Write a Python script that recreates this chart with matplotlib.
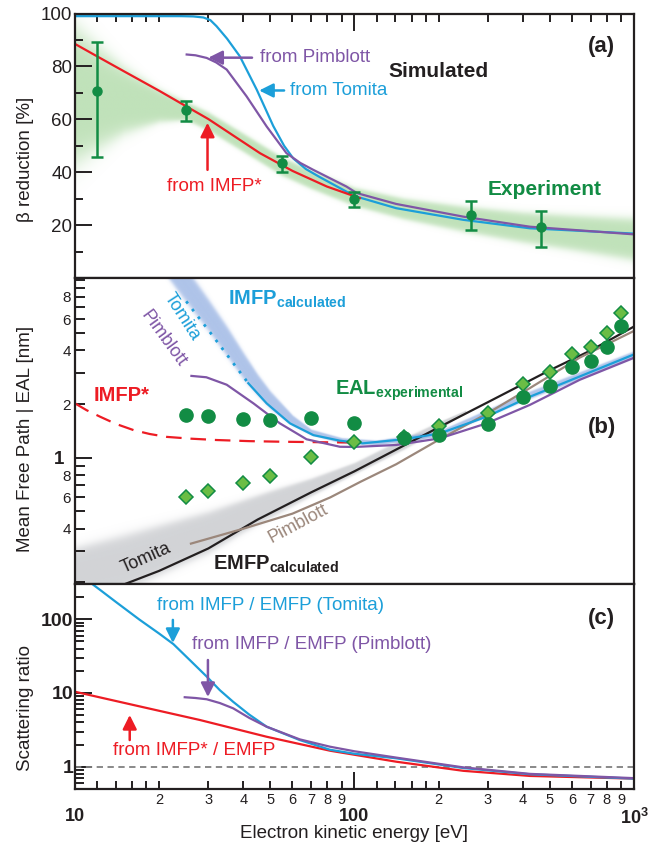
import matplotlib
matplotlib.use("Agg")
import matplotlib.pyplot as plt
from matplotlib.colors import to_rgb
import numpy as np

plt.rcParams["font.family"] = ["Liberation Sans", "DejaVu Sans"]
plt.rcParams["mathtext.fontset"] = "custom"
plt.rcParams["mathtext.rm"] = "Liberation Sans"
plt.rcParams["mathtext.bf"] = "Liberation Sans:bold"
plt.rcParams["mathtext.it"] = "Liberation Sans:italic"

RED = "#ed1c24"
BLUE = "#1c9fd9"
PURPLE = "#7f56a6"
GREEN = "#128c44"
LIGHT_GREEN = "#6bbd45"
BROWN = "#9b877b"
INK = "#231f20"

# ---- panel (a): beta reduction [%] ----
exp_energy = [12, 25, 55, 100, 262, 463]
exp_beta = [70.8, 63.4, 43.4, 29.9, 23.9, 19.1]
exp_beta_hi = [89.1, 66.8, 46.2, 32.5, 29.2, 25.5]
exp_beta_lo = [45.6, 59.5, 39.9, 27.0, 18.2, 11.6]

exp_band_energy = [10, 12, 15, 20, 25, 30, 40, 55, 70, 100, 150, 250, 400, 600, 1000]
exp_band_lo = [40, 46, 53, 58, 59, 55, 47, 38, 33, 26.5, 21.5, 16.5, 12.5, 9.5, 5.5]
exp_band_hi = [98, 90, 81, 72, 67, 63, 55, 46, 41, 34.5, 30.5, 27.5, 25.5, 24.5, 23.5]

sim_imfp_star_energy = [10, 12, 15, 20, 25, 30, 45.9, 60, 79.6, 104.5]
sim_imfp_star_beta = [88.5, 83.8, 78.1, 70.8, 64.9, 60.1, 47.2, 40.5, 34.6, 30.2]

sim_tomita_energy = [10, 24, 26.5, 28.8, 30.5, 32.1, 35, 38.9, 44.7, 51.2, 56, 60.4, 67, 75, 100,
                     141, 245, 424, 1000]
sim_tomita_beta = [99.0, 99.0, 98.9, 98.5, 97.5, 95.2, 90.5, 83.8, 71.2, 57.5, 50.0, 45.2, 41.2,
                   38.2, 31.0, 26.4, 22.0, 18.8, 16.8]

sim_pimblott_energy = [25.1, 27, 29.6, 32, 34.9, 41.1, 48.5, 57.1, 64, 71.2, 93.5, 102, 141, 245,
                       424, 1000]
sim_pimblott_beta = [84.5, 84.2, 83.2, 81.5, 78.8, 68.7, 57.3, 47.2, 43.5, 40.9, 34.6, 32.1, 28.0,
                     23.2, 19.4, 16.5]

# ---- panel (b): mean free path / EAL [nm] ----
eal_energy = [25, 30, 40, 50, 70, 100, 150, 200, 300, 400, 500, 600, 700, 800, 900]
eal_circle = [1.74, 1.72, 1.65, 1.63, 1.67, 1.57, 1.285, 1.34, 1.55, 2.19, 2.54, 3.22, 3.51, 4.17, 5.46]
eal_diamond = [0.603, 0.650, 0.718, 0.792, 1.005, 1.23, 1.30, 1.51, 1.79, 2.59, 3.01, 3.82, 4.16, 5.01, 6.49]

imfp_tomita_dotted_energy = [25, 30, 35, 41.7]
imfp_tomita_dotted = [7.55, 5.21, 3.78, 2.62]
imfp_tomita_energy = [41.7, 48.5, 58.8, 71.3, 88.7, 107, 150, 202, 297, 424, 640, 1000]
imfp_tomita = [2.62, 2.02, 1.56, 1.34, 1.247, 1.205, 1.27, 1.37, 1.70, 2.20, 2.86, 3.80]

imfp_band_energy = [21, 25, 30, 35, 40, 45, 50, 60, 70, 90, 120, 200, 400, 1000]
imfp_band_lo = [10.5, 7.2, 5.0, 3.6, 2.7, 2.2, 1.85, 1.5, 1.33, 1.2, 1.17, 1.3, 2.05, 3.6]
imfp_band_hi = [16, 12, 8.0, 5.6, 4.0, 3.0, 2.4, 1.75, 1.45, 1.3, 1.26, 1.42, 2.3, 4.0]

imfp_pimblott_energy = [26.1, 29.5, 34.9, 43.5, 54.1, 67.4, 88.7, 100, 141, 202, 297, 424, 640, 1000]
imfp_pimblott = [2.88, 2.83, 2.57, 2.02, 1.56, 1.27, 1.153, 1.15, 1.18, 1.285, 1.56, 1.98, 2.74, 3.64]

imfp_star_energy = [10, 11, 12.3, 14, 16.2, 18.5, 21.3, 26, 32.1, 42, 55.7, 70, 83.6, 100]
imfp_star = [2.02, 1.85, 1.70, 1.55, 1.43, 1.36, 1.31, 1.28, 1.258, 1.24, 1.23, 1.225, 1.22, 1.22]

emfp_tomita_energy = [12, 15, 20, 30, 45, 70, 100, 150, 200, 300, 500, 700, 1000]
emfp_tomita = [0.17, 0.195, 0.232, 0.31, 0.45, 0.64, 0.84, 1.17, 1.48, 2.05, 3.1, 4.0, 5.45]

emfp_band_energy = [10, 15, 20, 30, 40, 50, 70, 100, 150, 200, 250]
emfp_band_lo = [0.15, 0.17, 0.21, 0.28, 0.37, 0.45, 0.6, 0.8, 1.1, 1.42, 1.8]
emfp_band_hi = [0.33, 0.39, 0.44, 0.52, 0.6, 0.67, 0.78, 0.95, 1.3, 1.6, 1.85]

emfp_pimblott_energy = [26, 40, 60, 82, 105, 141, 200, 300, 424, 640, 1000]
emfp_pimblott = [0.33, 0.40, 0.486, 0.60, 0.733, 0.92, 1.26, 1.78, 2.46, 3.65, 5.15]

# ---- panel (c): scattering ratio ----
ratio_tomita_energy = [10, 12.3, 14, 17, 20, 22.5, 26, 29.6, 33, 36.8, 42, 48.5, 63.7, 81.7, 100,
                       141, 245, 424, 1000]
ratio_tomita = [450, 250, 172, 99, 64, 46, 27, 16.7, 10.9, 7.6, 5.1, 3.49, 2.30, 1.70, 1.50,
                1.30, 0.96, 0.79, 0.69]

ratio_pimblott_energy = [24.7, 27, 29.6, 33, 36.8, 42, 48.5, 63.7, 81.7, 100, 141, 245, 424, 1000]
ratio_pimblott = [8.76, 8.55, 8.22, 7.3, 6.2, 4.6, 3.49, 2.35, 1.87, 1.62, 1.33, 0.98, 0.80, 0.70]

ratio_imfp_star_energy = [10, 16.2, 28, 48.5, 81.7, 141, 245, 424, 1000]
ratio_imfp_star = [10.4, 6.87, 4.30, 2.55, 1.65, 1.17, 0.88, 0.75, 0.69]

x_minor = [m * d for d in (10, 100) for m in (1.2, 1.4, 1.6, 1.8, 2, 3, 4, 5, 6, 7, 8, 9)]
x_minor_labels = ["" if m < 2 else str(m) for d in (10, 100)
                  for m in (1.2, 1.4, 1.6, 1.8, 2, 3, 4, 5, 6, 7, 8, 9)]


def soft_band(ax, x, lo, hi, color, peak, soft=0.22):
    # soft-edged ribbon, drawn as an image in axes coordinates
    xlim, ylim = ax.get_xlim(), ax.get_ylim()
    to_frac = ax.transScale + ax.transLimits
    p_lo = to_frac.transform(np.column_stack([x, lo]))
    p_hi = to_frac.transform(np.column_stack([x, hi]))
    fx, flo, fhi = p_lo[:, 0], p_lo[:, 1], p_hi[:, 1]
    gx = np.linspace(0, 1, 800)
    gy = np.linspace(0, 1, 600)
    mid = np.interp(gx, fx, (flo + fhi) / 2)
    half = np.interp(gx, fx, (fhi - flo) / 2)
    d = np.abs(gy[:, None] - mid[None, :]) / half[None, :]
    alpha = peak * 0.5 * (1 - np.tanh((d - 0.85) / soft))
    alpha[:, (gx < fx[0]) | (gx > fx[-1])] = 0
    rgba = np.zeros((gy.size, gx.size, 4))
    rgba[..., :3] = to_rgb(color)
    rgba[..., 3] = alpha
    ax.imshow(rgba, extent=(0, 1, 0, 1), transform=ax.transAxes, origin="lower",
              aspect="auto", interpolation="bilinear", zorder=1)
    ax.set_xlim(xlim)
    ax.set_ylim(ylim)


def arrow(ax, tail, tip, color):
    ax.annotate("", xy=tip, xytext=tail,
                arrowprops=dict(arrowstyle="-|>,head_length=0.6,head_width=0.3",
                                color=color, lw=1.8, mutation_scale=14,
                                shrinkA=0, shrinkB=0), zorder=6)


def style_axes(ax):
    ax.set_xscale("log")
    ax.set_xlim(10, 1000)
    for s in ax.spines.values():
        s.set_linewidth(1.6)
        s.set_color(INK)
        s.set_zorder(8)
    ax.tick_params(which="both", direction="in", color=INK, width=1.4,
                   right=False, labelcolor=INK)
    ax.tick_params(which="major", length=12)


fig = plt.figure(figsize=(6.67, 8.44), dpi=100)
left, width = 0.1124, 0.8381
ax_a = fig.add_axes([left, 0.6706, width, 0.3134])
ax_b = fig.add_axes([left, 0.3086, width, 0.3620])
ax_c = fig.add_axes([left, 0.0648, width, 0.2438])

# ================= (a) =================
style_axes(ax_a)
ax_a.set_ylim(0, 100)
soft_band(ax_a, exp_band_energy, exp_band_lo, exp_band_hi, "#86c77a", 0.52)
ax_a.plot(sim_tomita_energy, sim_tomita_beta, color=BLUE, lw=1.6, zorder=3)
ax_a.plot(sim_pimblott_energy, sim_pimblott_beta, color=PURPLE, lw=1.6, zorder=3)
ax_a.plot(sim_imfp_star_energy, sim_imfp_star_beta, color=RED, lw=1.6, zorder=3)
beta = np.array(exp_beta)
yerr = [beta - np.array(exp_beta_lo), np.array(exp_beta_hi) - beta]
ax_a.errorbar(exp_energy, exp_beta, yerr=yerr, fmt="o", color=GREEN, ms=6.5,
              elinewidth=1.8, capsize=4, capthick=1.8, zorder=5)
ax_a.set_yticks([20, 40, 60, 80, 100])
ax_a.set_yticks([10, 30, 50, 70, 90], minor=True)
ax_a.tick_params(axis="y", which="major", labelsize=13.5, pad=2)
ax_a.tick_params(axis="y", which="minor", length=6)
ax_a.set_xticks([10, 100, 1000])
ax_a.set_xticks(x_minor, minor=True)
ax_a.tick_params(axis="x", which="both", top=True, bottom=False,
                 labelbottom=False, labeltop=False)
ax_a.tick_params(axis="x", which="minor", length=6)
ax_a.set_ylabel("β reduction [%]", fontsize=13.5, color=INK)
ax_a.yaxis.set_label_coords(-0.074, 0.45)

ax_a.text(45.9, 83.5, "from Pimblott", color=PURPLE, fontsize=13.5, va="center")
arrow(ax_a, (43, 83.3), (30, 83.3), PURPLE)
ax_a.text(58.7, 70.9, "from Tomita", color=BLUE, fontsize=13.5, va="center")
arrow(ax_a, (56, 70.9), (45.6, 70.9), BLUE)
ax_a.text(31.6, 34.5, "from IMFP*", color=RED, fontsize=13.5, va="center", ha="center")
arrow(ax_a, (29.8, 40.9), (29.8, 58.7), RED)
ax_a.text(199, 78, "Simulated", color=INK, fontsize=15, fontweight="bold",
          ha="center", va="center")
ax_a.text(479, 33.3, "Experiment", color=GREEN, fontsize=15, fontweight="bold",
          ha="center", va="center")
ax_a.text(0.941, 0.875, "(a)", transform=ax_a.transAxes, fontsize=16,
          fontweight="bold", ha="center", va="center", color=INK)

# ================= (b) =================
style_axes(ax_b)
ax_b.set_yscale("log")
ax_b.set_ylim(0.197, 10.2)
soft_band(ax_b, emfp_band_energy, emfp_band_lo, emfp_band_hi, "#a5a8ae", 0.5, soft=0.18)
soft_band(ax_b, imfp_band_energy, imfp_band_lo, imfp_band_hi, "#7d9fdc", 0.62, soft=0.2)
ax_b.plot(imfp_star_energy, imfp_star, color=RED, lw=1.6, dashes=(7, 4), zorder=3)
ax_b.plot(emfp_tomita_energy, emfp_tomita, color=INK, lw=1.6, zorder=3)
ax_b.plot(emfp_pimblott_energy, emfp_pimblott, color=BROWN, lw=1.6, zorder=3)
ax_b.plot(imfp_tomita_dotted_energy, imfp_tomita_dotted, color=BLUE, lw=2,
          ls=(0, (1, 2.5)), zorder=3)
ax_b.plot(imfp_tomita_energy, imfp_tomita, color=BLUE, lw=1.6, zorder=3)
ax_b.plot(imfp_pimblott_energy, imfp_pimblott, color=PURPLE, lw=1.6, zorder=3)
ax_b.plot(eal_energy, eal_diamond, "D", ms=7.5, mfc=LIGHT_GREEN, mec=GREEN,
          mew=1.1, ls="none", zorder=4)
ax_b.plot(eal_energy, eal_circle, "o", ms=9.5, color=GREEN, ls="none", zorder=5)

ax_b.set_yticks([1], labels=["1"], fontsize=13.5, fontweight="bold")
b_minor = [0.2, 0.3, 0.4, 0.5, 0.6, 0.7, 0.8, 0.9, 2, 3, 4, 5, 6, 7, 8, 9, 10]
b_minor_labels = ["", "", "4", "", "6", "", "8", "", "2", "", "4", "", "6", "", "8", "", ""]
ax_b.set_yticks(b_minor, labels=b_minor_labels, minor=True, fontsize=11)
ax_b.tick_params(axis="y", which="major", pad=8)
ax_b.tick_params(axis="y", which="minor", length=7, pad=3)
ax_b.tick_params(axis="x", which="both", top=False, bottom=False,
                 labelbottom=False)
ax_b.set_ylabel("Mean Free Path | EAL [nm]", fontsize=13.5, color=INK)
ax_b.yaxis.set_label_coords(-0.074, 0.473)

ax_b.text(35.2, 7.23, r"$\mathbf{IMFP}_{\mathbf{calculated}}$", color=BLUE, fontsize=14.5)
ax_b.text(85.1, 2.25, r"$\mathbf{EAL}_{\mathbf{experimental}}$", color=GREEN, fontsize=14.5)
ax_b.text(31.3, 0.2355, r"$\mathbf{EMFP}_{\mathbf{calculated}}$", color=INK, fontsize=14.5)
ax_b.text(14.7, 2.25, "IMFP*", color=RED, fontsize=14.5, fontweight="bold",
          ha="center", va="center")
ax_b.text(24.1, 6.15, "Tomita", color=BLUE, fontsize=13, rotation=-57,
          ha="center", va="center")
ax_b.text(20.7, 4.66, "Pimblott", color=PURPLE, fontsize=13, rotation=-54,
          ha="center", va="center")
ax_b.text(17.9, 0.274, "Tomita", color=INK, fontsize=13, rotation=24,
          ha="center", va="center")
ax_b.text(63, 0.424, "Pimblott", color=BROWN, fontsize=13, rotation=28,
          ha="center", va="center")
ax_b.text(0.943, 0.51, "(b)", transform=ax_b.transAxes, fontsize=16,
          fontweight="bold", ha="center", va="center", color=INK)

# ================= (c) =================
style_axes(ax_c)
ax_c.set_yscale("log")
ax_c.set_ylim(0.494, 305)
ax_c.axhline(1, color="#808080", lw=1.3, dashes=(3.5, 2.5), zorder=2)
ax_c.plot(ratio_imfp_star_energy, ratio_imfp_star, color=RED, lw=1.6, zorder=3)
ax_c.plot(ratio_tomita_energy, ratio_tomita, color=BLUE, lw=1.6, zorder=3)
ax_c.plot(ratio_pimblott_energy, ratio_pimblott, color=PURPLE, lw=1.6, zorder=3)

ax_c.set_yticks([1, 10, 100], labels=["1", "10", "100"], fontsize=14, fontweight="bold")
c_minor = [m * d for d in (0.1, 1, 10, 100) for m in range(2, 10)]
c_minor = [v for v in c_minor if 0.494 <= v <= 305]
ax_c.set_yticks(c_minor, minor=True)
ax_c.yaxis.set_minor_formatter(plt.NullFormatter())
ax_c.tick_params(axis="y", which="major", pad=1)
ax_c.tick_params(axis="y", which="minor", length=6.5)

ax_c.set_xticks([10, 100, 1000], labels=["10", "100", r"$\mathbf{10^{3}}$"],
                fontsize=13, fontweight="bold")
ax_c.set_xticks(x_minor, labels=x_minor_labels, minor=True, fontsize=10.5)
ax_c.tick_params(axis="x", which="both", top=False, bottom=True)
ax_c.tick_params(axis="x", which="major", pad=13.5)
ax_c.tick_params(axis="x", which="minor", length=6, pad=3)
ax_c.set_ylabel("Scattering ratio", fontsize=13.5, color=INK)
ax_c.yaxis.set_label_coords(-0.074, 0.394)
ax_c.set_xlabel("Electron kinetic energy [eV]", fontsize=13.5, color=INK)
ax_c.xaxis.set_label_coords(0.5, -0.1735)

ax_c.text(19.6, 156, "from IMFP / EMFP (Tomita)", color=BLUE, fontsize=13.5, va="center")
arrow(ax_c, (22.4, 98), (22.4, 47.7), BLUE)
ax_c.text(26.2, 44.8, "from IMFP / EMFP (Pimblott)", color=PURPLE, fontsize=13.5,
          va="center")
arrow(ax_c, (29.9, 28), (29.9, 8.83), PURPLE)
ax_c.text(13.7, 1.68, "from IMFP* / EMFP", color=RED, fontsize=13.5, va="center")
arrow(ax_c, (15.7, 2.30), (15.7, 5.03), RED)
ax_c.text(0.941, 0.83, "(c)", transform=ax_c.transAxes, fontsize=16,
          fontweight="bold", ha="center", va="center", color=INK)

fig.savefig("out.png", dpi=100)
plt.close(fig)
